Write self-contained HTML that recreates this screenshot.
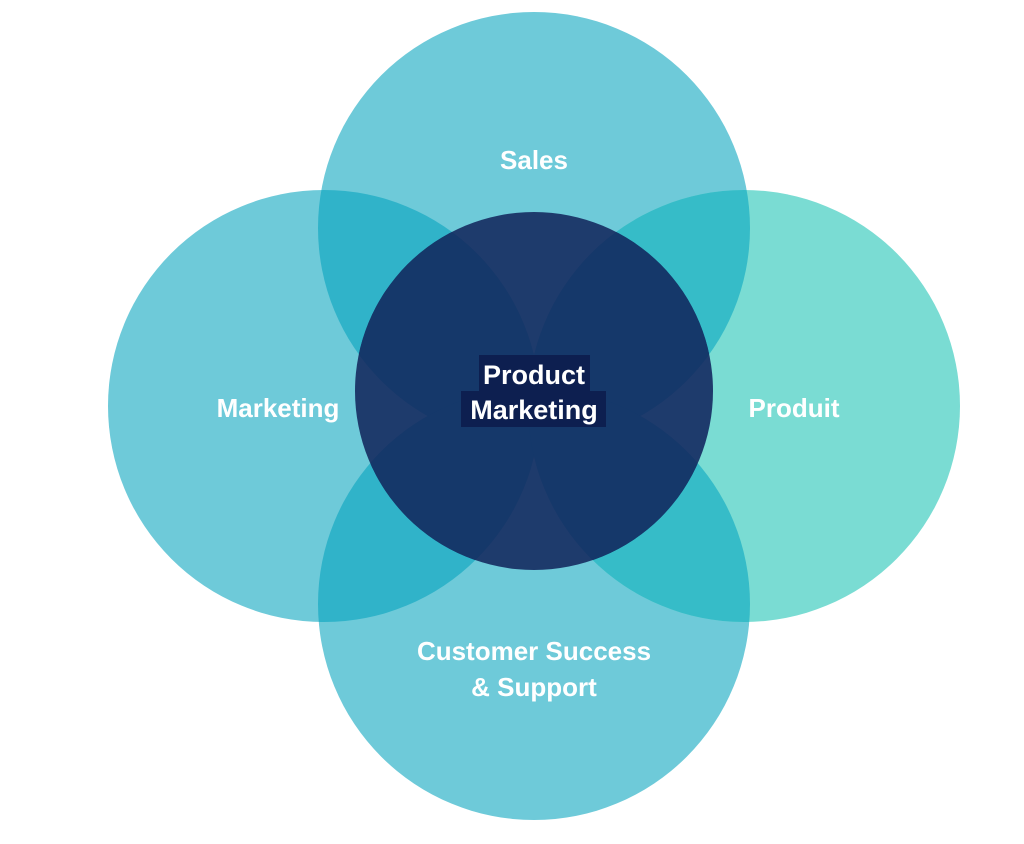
<!DOCTYPE html>
<html><head><style>
body{margin:0;background:#fff;width:1024px;height:839px;overflow:hidden}
svg text{font-family:"Liberation Sans",sans-serif;font-weight:bold;fill:#fff}
</style></head><body>
<svg width="1024" height="839" viewBox="0 0 1024 839">
<defs>
<clipPath id="cT"><circle cx="534" cy="228" r="216"/></clipPath>
<clipPath id="cB"><circle cx="534" cy="604" r="216"/></clipPath>
<clipPath id="cL"><circle cx="324" cy="406" r="216"/></clipPath>
<clipPath id="cR"><circle cx="744" cy="406" r="216"/></clipPath>
<clipPath id="cC"><circle cx="534" cy="391" r="179"/></clipPath>
</defs>
<circle cx="534" cy="228" r="216" fill="#6ecad9"/>
<circle cx="534" cy="604" r="216" fill="#6ecad9"/>
<circle cx="324" cy="406" r="216" fill="#6ecad9"/>
<circle cx="744" cy="406" r="216" fill="#7adcd3"/>
<g clip-path="url(#cT)"><circle cx="324" cy="406" r="216" fill="#30b3c9"/><circle cx="744" cy="406" r="216" fill="#36bcc8"/></g>
<g clip-path="url(#cB)"><circle cx="324" cy="406" r="216" fill="#30b3c9"/><circle cx="744" cy="406" r="216" fill="#36bcc8"/></g>
<circle cx="534" cy="391" r="179" fill="#1e3b6c"/>
<g clip-path="url(#cC)">
<g clip-path="url(#cT)"><circle cx="324" cy="406" r="216" fill="#15386a"/><circle cx="744" cy="406" r="216" fill="#15386a"/></g>
<g clip-path="url(#cB)"><circle cx="324" cy="406" r="216" fill="#15386a"/><circle cx="744" cy="406" r="216" fill="#15386a"/></g>
</g>
<rect x="479" y="355" width="111" height="36" fill="#0d1f50"/>
<rect x="461" y="391" width="145" height="36" fill="#0d1f50"/>
<text x="534" y="384" font-size="27" text-anchor="middle">Product</text>
<text x="534" y="419" font-size="27" text-anchor="middle">Marketing</text>
<text x="534" y="169" font-size="26" text-anchor="middle">Sales</text>
<text x="278" y="417" font-size="26" text-anchor="middle">Marketing</text>
<text x="794" y="417" font-size="26" text-anchor="middle">Produit</text>
<text x="534" y="660" font-size="26" text-anchor="middle">Customer Success</text>
<text x="534" y="696" font-size="26" text-anchor="middle">&amp; Support</text>
</svg>
</body></html>
